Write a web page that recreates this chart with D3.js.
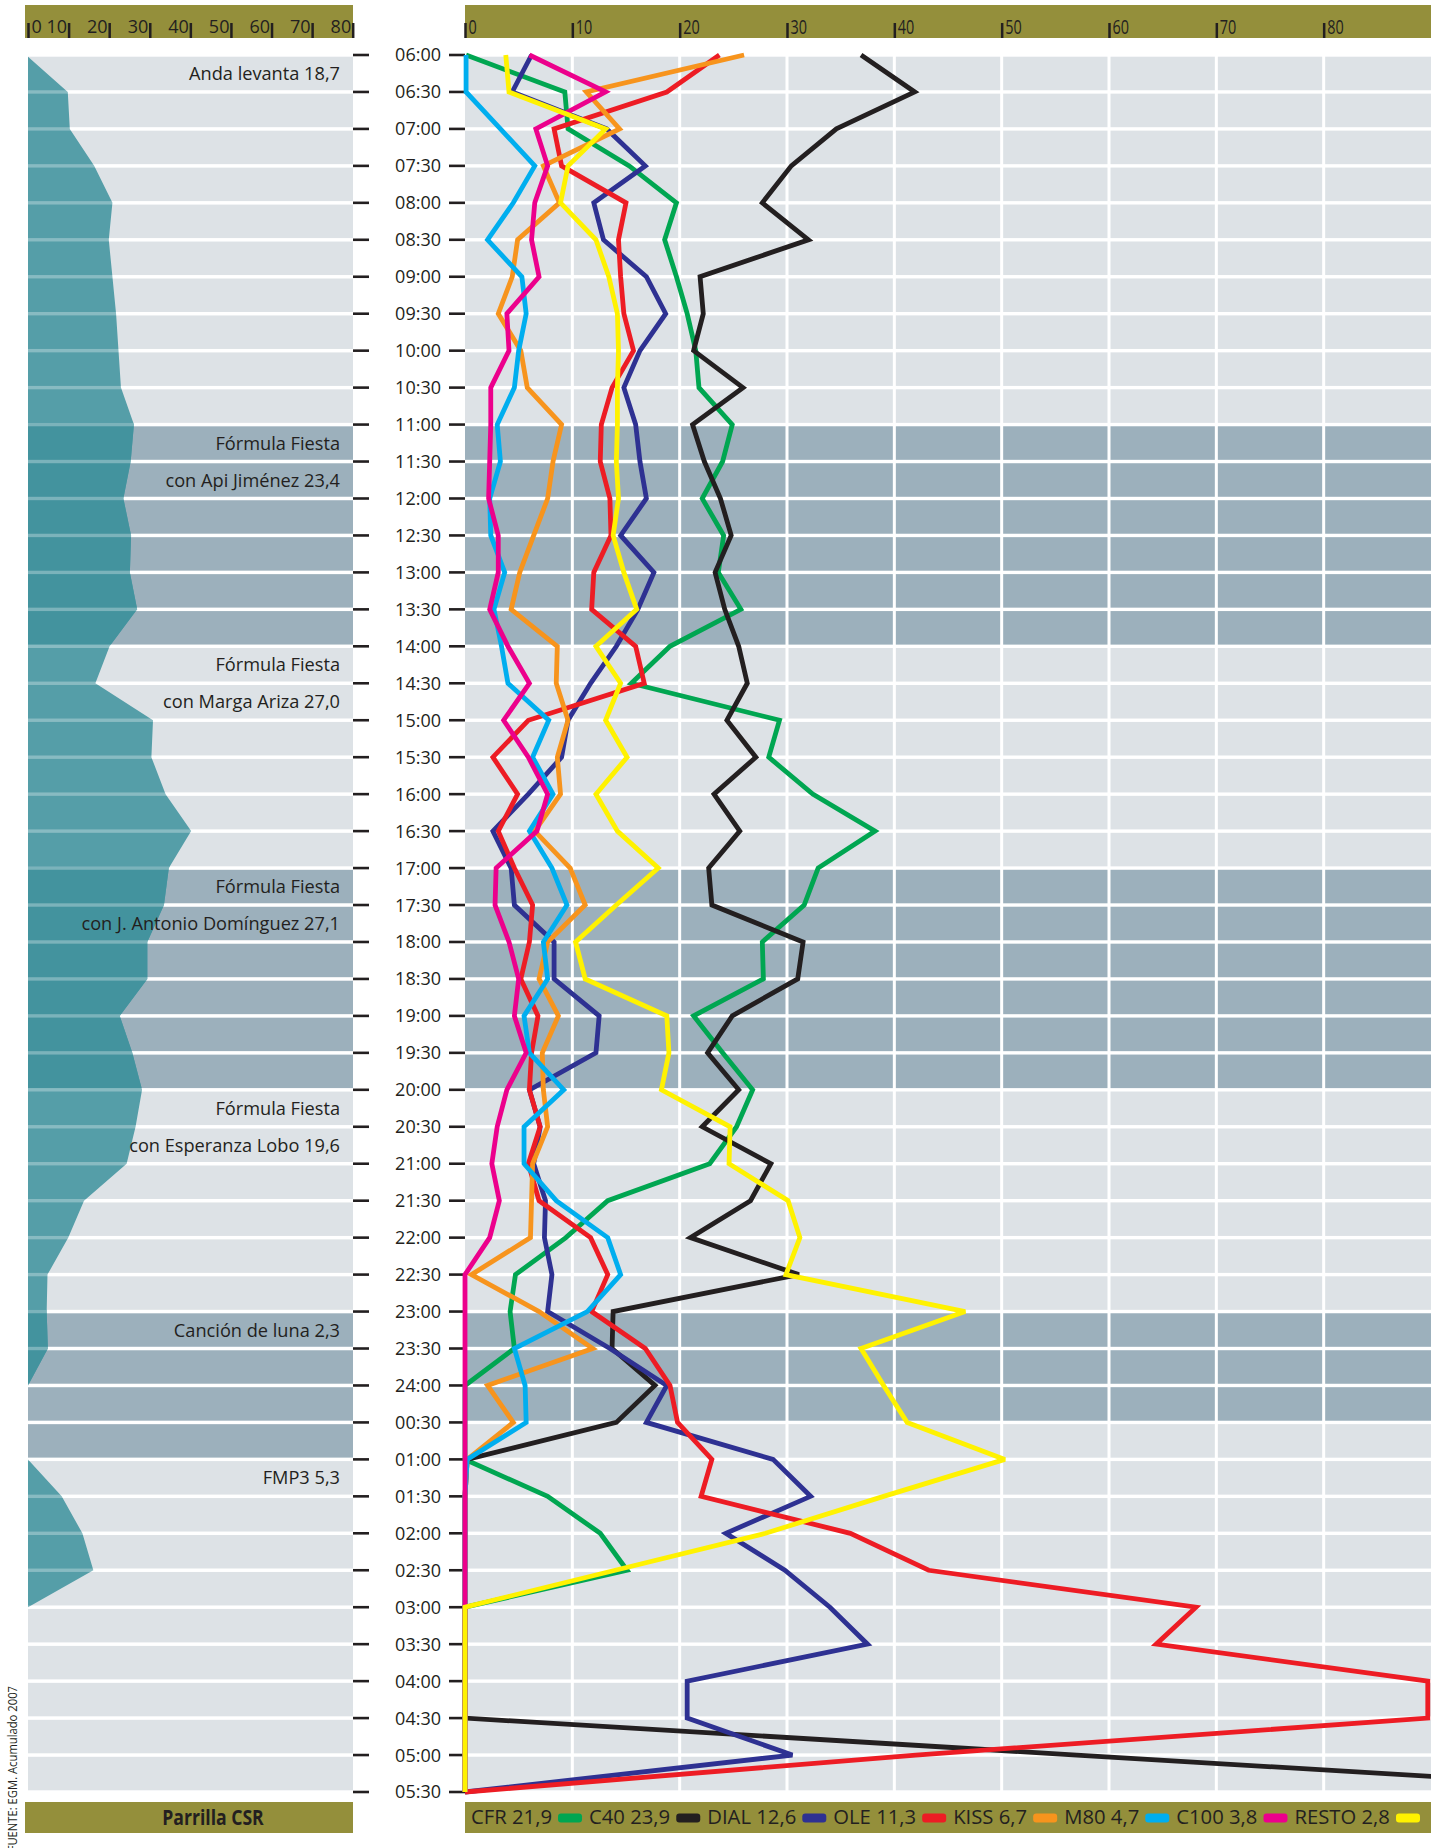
<!DOCTYPE html>
<html>
<head>
<meta charset="utf-8">
<script src="https://cdn.jsdelivr.net/npm/d3@7"></script>
<style>
body{margin:0;background:#fff;}
svg{display:block;font-family:"Open Sans",sans-serif;}
</style>
</head>
<body>
<svg width="1431" height="1848"></svg>
<script>
// half-hour slots, 06:00 -> 05:30
const times=["06:00","06:30","07:00","07:30","08:00","08:30","09:00","09:30","10:00","10:30",
 "11:00","11:30","12:00","12:30","13:00","13:30","14:00","14:30","15:00","15:30",
 "16:00","16:30","17:00","17:30","18:00","18:30","19:00","19:30","20:00","20:30",
 "21:00","21:30","22:00","22:30","23:00","23:30","24:00","00:30","01:00","01:30",
 "02:00","02:30","03:00","03:30","04:00","04:30","05:00","05:30"];

// left panel: audience of the CSR schedule
const csr=[0,9.8,10.3,16.3,20.8,19.9,20.8,21.7,22.3,22.9,
 26.1,25.3,23.5,25.4,25.1,26.9,20.1,16.6,30.8,30.4,
 33.9,40.2,34.7,33.5,29.4,29.4,22.6,25.7,28.1,26.5,
 24.3,13.8,9.9,4.8,4.6,4.9,0,0,0,8.3,
 13.4,16.1,0,0,0,0,0,0];

// right panel: stations
const cfr=[0.1,9.3,9.6,15.3,19.7,18.6,19.7,20.7,21.5,21.8,
 24.9,24.0,22.1,24.1,23.6,25.7,19.1,15.5,29.3,28.3,
 32.4,38.2,32.9,31.6,27.7,27.8,21.3,24.0,26.8,25.3,
 22.8,13.3,9.4,4.7,4.2,4.6,0,0,0,7.7,
 12.6,15.1,0,0,0,0,0,0];
const c40=[36.9,41.9,34.6,30.4,27.7,32.0,21.9,22.2,21.3,25.9,
 21.2,22.3,23.8,24.8,23.3,24.2,25.5,26.3,24.4,27.1,
 23.2,25.6,22.7,23.0,31.5,31.0,24.9,22.6,25.5,22.1,
 28.5,26.6,21.0,31.1,13.8,13.7,17.7,14.1,0.2,0,
 0,0,0,0,0,0,57,114];
const dial=[6.2,4.4,13.2,16.8,12.0,12.9,16.9,18.7,16.3,14.8,
 15.9,16.3,16.9,14.5,17.6,16.1,14.1,11.7,9.6,9.0,
 5.9,2.6,4.3,4.6,8.3,8.3,12.5,12.2,6.0,7.0,
 6.4,7.5,7.4,8.1,7.7,13.5,18.8,16.9,28.7,32.2,
 24.3,29.8,34.0,37.5,20.7,20.7,30.5,0];
const ole=[23.7,18.8,8.3,9.0,15.0,14.3,14.5,14.8,15.7,13.7,
 12.7,12.6,13.5,13.6,12.0,11.8,15.9,16.7,5.9,2.6,
 4.9,3.1,4.6,6.3,6.0,5.2,6.8,6.2,6.0,7.0,
 5.9,6.9,11.7,13.3,11.8,16.8,19.1,19.8,23.0,22.0,
 35.9,43.2,68.1,64.4,89.7,89.7,42,0];
const kiss=[26.0,11.3,14.4,7.3,8.8,4.9,4.4,3.1,5.2,5.8,
 9.0,8.2,7.7,6.4,5.1,4.3,8.6,8.5,9.6,8.6,
 8.9,6.5,9.8,11.2,7.7,6.9,8.7,7.2,7.3,7.7,
 6.3,6.2,6.1,0.6,6.9,11.9,2.1,4.5,0.2,0,
 0,0,0,0,0,0,0,0];
const m80=[0.1,0.1,3.3,6.5,4.5,2.1,5.3,5.7,5.0,4.6,
 3.0,3.3,2.3,2.4,3.7,2.7,3.4,4.0,7.8,6.3,
 8.2,6.0,8.1,9.5,7.3,7.7,5.5,6.0,9.2,5.5,
 5.5,8.5,13.3,14.5,11.4,4.6,5.6,5.7,0.2,0,
 0,0,0,0,0,0,0,0];
const c100=[6.0,13.1,6.6,7.7,6.5,6.2,6.9,3.9,4.1,2.4,
 2.4,2.3,2.2,3.1,3.1,2.3,4.0,6.0,3.6,5.9,
 7.7,6.7,2.9,2.8,4.1,5.0,4.6,5.7,3.9,3.0,
 2.5,3.2,2.3,0,0,0,0,0,0,0,
 0,0,0,0,0,0,0,0];
const resto=[3.8,4.1,13.1,9.6,8.9,12.2,13.4,14.2,14.3,14.2,
 14.2,14.1,14.3,13.8,14.8,16.0,12.2,14.5,13.1,15.1,
 12.2,14.2,18.0,14.1,10.3,11.2,18.8,19.0,18.3,24.7,
 24.6,30.1,31.2,29.9,46.6,36.9,39.0,41.2,50.3,39,
 28,14,0,0,0,0,0,0];

const seriesNames=["CFR 21,9","C40 23,9","DIAL 12,6","OLE 11,3","KISS 6,7","M80 4,7","C100 3,8","RESTO 2,8"];
const seriesColors=["#00a651","#231f20","#2e3192","#ed1c24","#f7941d","#00aeef","#ec008c","#fff200"];
const seriesData=[cfr,c40,dial,ole,kiss,m80,c100,resto];

// programme names, placed on the slot where each line starts
const progTexts=["Anda levanta 18,7","Fórmula Fiesta","con Api Jiménez 23,4","Fórmula Fiesta","con Marga Ariza 27,0",
 "Fórmula Fiesta","con J. Antonio Domínguez 27,1","Fórmula Fiesta","con Esperanza Lobo 19,6","Canción de luna 2,3","FMP3 5,3"];
const progSlots=["06:00","11:00","11:30","14:00","14:30","17:00","17:30","20:00","20:30","23:00","01:00"];

const shadedLeft=[["11:00","14:00"],["17:00","20:00"],["23:00","01:00"]];
const shadedRight=[["11:00","14:00"],["17:00","20:00"],["23:00","00:30"]];
const axisTicks=[0,10,20,30,40,50,60,70,80];

const svg=d3.select('svg');
const ink='#231f20', olive='#948f3b', light='#dde2e6', dark='#9cb0bc';
const tealLight='#559ea8', tealDark='#43939e';

const y=d3.scalePoint().domain(times).range([55,1792]);
const xL=d3.scaleLinear().domain([0,80]).range([28,352.7]);
const xR=d3.scaleLinear().domain([0,90]).range([465,1431]);

const idx=t=>times.indexOf(t);
const inRange=(k,ranges)=>ranges.some(r=>k>=idx(r[0])&&k<idx(r[1]));
const slots=d3.range(times.length-1);

/* headers */
svg.append('rect').attr('x',25).attr('y',5).attr('width',328).attr('height',33).attr('fill',olive);
svg.append('rect').attr('x',465).attr('y',5).attr('width',966).attr('height',33).attr('fill',olive);

const gL=svg.append('g').attr('transform','translate(0,38)')
  .call(d3.axisTop(xL).tickValues(axisTicks).tickSize(15).tickFormat(d3.format('d')));
gL.select('.domain').remove();
gL.attr('font-family','Open Sans').attr('font-size',18);
gL.selectAll('.tick line').attr('stroke',ink).attr('stroke-width',2.5);
gL.selectAll('.tick text').attr('fill',ink).attr('y',-5).attr('dy',0)
  .attr('x',d=>d===0?3:-2).attr('text-anchor',d=>d===0?'start':'end');

const gR=svg.append('g').attr('transform','translate(0,38)')
  .call(d3.axisTop(xR).tickValues(axisTicks).tickSize(15).tickFormat(d3.format('d')));
gR.select('.domain').remove();
gR.attr('font-family','Open Sans').attr('font-size',19.5);
gR.selectAll('.tick line').attr('stroke',ink).attr('stroke-width',2.5);
gR.selectAll('.tick text').attr('fill',ink).attr('y',-4).attr('dy',0)
  .attr('x',3/0.74).attr('text-anchor','start').attr('transform','scale(0.74,1)');

/* left panel */
svg.append('g').selectAll('rect').data(slots).join('rect')
  .attr('x',28).attr('width',325)
  .attr('y',k=>y(times[k])+1.7)
  .attr('height',k=>y(times[k+1])-y(times[k])-3.4)
  .attr('fill',k=>inRange(k,shadedLeft)?dark:light);

const defs=svg.append('defs');
defs.append('clipPath').attr('id','darkLeft').selectAll('rect')
  .data(slots.filter(k=>inRange(k,shadedLeft))).join('rect')
  .attr('x',0).attr('width',360)
  .attr('y',k=>y(times[k])-1.7).attr('height',k=>y(times[k+1])-y(times[k]));

const area=d3.area().x0(xL(0)).x1(d=>xL(d)).y((d,i)=>y(times[i])+(i===0?1.7:0));
svg.append('path').datum(csr).attr('d',area).attr('fill',tealLight);
svg.append('path').datum(csr).attr('d',area).attr('fill',tealDark).attr('clip-path','url(#darkLeft)');
svg.append('g').selectAll('rect').data(d3.range(1,times.length-1)).join('rect')
  .attr('x',28).attr('width',325)
  .attr('y',k=>y(times[k])-1.7).attr('height',3.4)
  .attr('fill','#fff').attr('opacity',0.3);

svg.append('g').selectAll('text').data(progTexts).join('text')
  .attr('x',340)
  .attr('y',(d,i)=>{const k=idx(progSlots[i]);return (y(times[k])+y(times[k+1]))/2;})
  .attr('dy','0.36em')
  .attr('text-anchor','end').attr('font-size',18.2).attr('fill',ink)
  .text(d=>d);

/* time axis */
const tg=svg.append('g');
tg.selectAll('line.l').data(times).join('line').attr('class','l')
  .attr('x1',353).attr('x2',369).attr('y1',d=>y(d)).attr('y2',d=>y(d))
  .attr('stroke',ink).attr('stroke-width',2.6);
tg.selectAll('line.r').data(times).join('line').attr('class','r')
  .attr('x1',449).attr('x2',465).attr('y1',d=>y(d)).attr('y2',d=>y(d))
  .attr('stroke',ink).attr('stroke-width',2.6);
tg.selectAll('text').data(times).join('text')
  .attr('x',441).attr('y',d=>y(d)).attr('dy','0.36em')
  .attr('text-anchor','end').attr('font-size',18).attr('fill',ink)
  .text(d=>d);

/* right panel */
svg.append('g').selectAll('rect').data(slots).join('rect')
  .attr('x',465).attr('width',966)
  .attr('y',k=>y(times[k])+1.7)
  .attr('height',k=>y(times[k+1])-y(times[k])-3.4)
  .attr('fill',k=>inRange(k,shadedRight)?dark:light);
svg.append('g').selectAll('rect').data(axisTicks.slice(1)).join('rect')
  .attr('x',d=>xR(d)-1.5).attr('width',3)
  .attr('y',y(times[0])).attr('height',y(times[times.length-1])-y(times[0]))
  .attr('fill','#fff');

defs.append('clipPath').attr('id','plotR').append('rect')
  .attr('x',460).attr('y',40).attr('width',971).attr('height',1760);

const line=d3.line().x(d=>xR(d)).y((d,i)=>y(times[i]));
svg.append('g').attr('clip-path','url(#plotR)')
  .selectAll('path').data(seriesData).join('path')
  .attr('d',line).attr('fill','none')
  .attr('stroke',(d,i)=>seriesColors[i]).attr('stroke-width',4.8)
  .attr('stroke-linejoin','miter').attr('stroke-miterlimit',2.5);

/* footer */
svg.append('rect').attr('x',25).attr('y',1802).attr('width',328).attr('height',31).attr('fill',olive);
svg.append('text').attr('transform','translate(213,1825) scale(0.8,1)')
  .attr('text-anchor','middle').attr('font-size',22).attr('font-weight','bold').attr('fill',ink)
  .text('Parrilla CSR');

svg.append('rect').attr('x',465).attr('y',1802).attr('width',966).attr('height',31).attr('fill',olive);
const lg=svg.append('g');
const swW=24, swH=9, gap1=6, gap2=7, lgX0=471, lgX1=1420;
const items=seriesNames.map((n,i)=>{
  const t=lg.append('text').attr('font-size',19.5).attr('fill',ink).text(n);
  return {t,raw:t.node().getComputedTextLength(),c:seriesColors[i]};
});
const sx=(lgX1-lgX0-items.length*(swW+gap1)-(items.length-1)*gap2)/d3.sum(items,d=>d.raw);
let cx=lgX0;
items.forEach(it=>{
  it.t.attr('transform',`translate(${cx},1824) scale(${sx},1)`);
  cx+=it.raw*sx+gap1;
  lg.append('rect').attr('x',cx).attr('y',1818-swH/2).attr('width',swW).attr('height',swH)
    .attr('rx',3).attr('fill',it.c);
  cx+=swW+gap2;
});

svg.append('text').attr('transform','translate(17,1686) rotate(-90) scale(0.9,1)')
  .attr('text-anchor','end').attr('font-size',12.5).attr('fill',ink)
  .text('FUENTE: EGM. Acumulado 2007');
</script>
</body>
</html>
